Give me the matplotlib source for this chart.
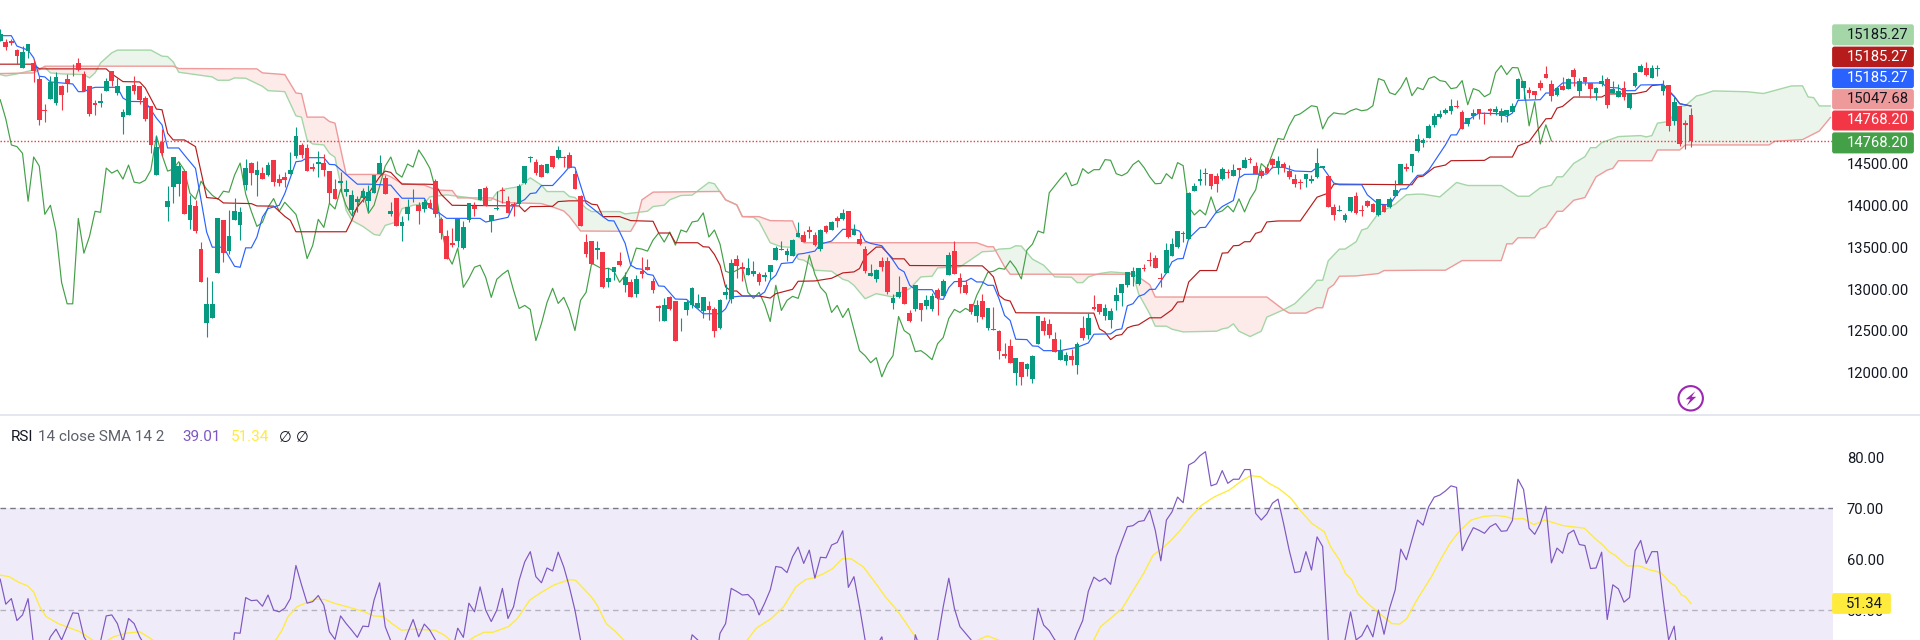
import numpy as np
import matplotlib
matplotlib.use("Agg")
import matplotlib.pyplot as plt
from matplotlib.patches import FancyBboxPatch, Circle, Polygon

plt.rcParams["font.family"] = ["Roboto", "DejaVu Sans"]

opens = [15960,15948,15956,15848,15636,15840,15704,15512,15140,15272,
15224,15420,15508,15668,15704,15572,15420,15220,15216,15360,
15608,15344,15056,15072,15440,15420,15280,15188,14360,14760,
13980,14216,14252,14408,13820,13988,13484,12596,12656,13196,
13820,13460,13820,13760,14240,14504,14360,14384,14360,14540,
14312,14336,14372,14588,14720,14684,14456,14496,14504,14408,
14192,14264,14156,13940,14044,14084,14048,14144,14372,14324,
13892,14084,13748,13892,14072,14000,13952,14024,14288,13832,
13628,13544,13568,13496,13820,13996,14060,14204,13808,13952,
14184,14048,14020,14012,14264,14564,14516,14480,14384,14588,
14564,14576,14601,14377,14113,13561,13573,13465,13441,13081,
13201,13333,13045,13081,12937,13213,13261,13093,12793,12613,
12901,12853,12581,12745,12805,12769,12733,12793,12757,12541,
12925,12877,13357,13261,13165,13177,13177,13145,13201,13345,
13469,13405,13393,13621,13645,13701,13645,13477,13753,13705,
13849,13837,13933,13645,13597,13477,13157,13117,13333,13333,
12829,12901,13021,12709,12757,12829,12793,12757,12985,12913,
13165,13453,13129,13045,12817,12673,12853,12541,12525,12505,
12229,12325,12001,12133,12049,11929,12349,12613,12589,12409,
12157,12145,12205,12097,12541,12457,12781,12817,12673,12625,
12853,12949,13045,13141,13057,13249,13349,13369,13137,13189,
13393,13501,13653,13597,14173,14293,14369,14377,14353,14317,
14401,14353,14449,14449,14553,14473,14413,14441,14557,14461,
14497,14413,14317,14281,14317,14293,14341,14449,14353,13981,
13937,13825,13933,14113,13945,14053,14017,13885,14005,13981,
14113,14257,14457,14473,14653,14749,14804,14960,15056,15104,
15128,15188,15116,14972,15068,15152,15104,15148,15116,15068,
15080,15116,15272,15404,15380,15368,15464,15572,15452,15320,
15428,15392,15620,15368,15536,15464,15344,15444,15512,15344,
15296,15404,15164,15428,15596,15644,15524,15624,15368,15440,
15008,15188,14980,15080]
highs = [16100,15980,15980,15860,15900,15920,15740,15540,15212,15540,
15592,15440,15572,15692,15752,15600,15420,15260,15340,15520,
15608,15520,15148,15420,15548,15420,15308,15188,14828,14908,
14228,14576,14520,14408,14120,14060,13556,13148,13100,13844,
13828,13940,14084,13980,14548,14520,14532,14452,14520,14540,
14372,14400,14636,14932,14740,14728,14508,14648,14608,14408,
14312,14400,14300,14180,14108,14204,14240,14360,14600,14360,
14036,14084,13876,14072,14192,14036,14080,14072,14312,13856,
13700,13724,13832,13808,14032,14044,14200,14228,13880,14168,
14216,14108,14040,14252,14468,14588,14548,14492,14492,14588,
14708,14588,14640,14425,14125,13657,13573,13573,13441,13249,
13261,13441,13201,13117,13165,13381,13357,13129,12805,12889,
12913,12853,12649,12865,13021,12937,12901,12853,12781,12877,
13057,13357,13405,13321,13369,13333,13201,13201,13285,13513,
13573,13489,13597,13801,13693,13753,13681,13717,13765,13813,
13873,13957,13933,13777,13669,13513,13297,13237,13381,13381,
12937,13153,13021,12745,13045,12829,12925,12949,13009,13117,
13441,13573,13189,13105,12817,12865,12937,12769,12781,12517,
12361,12409,12181,12133,12121,12217,12673,12661,12637,12493,
12409,12253,12289,12373,12673,12709,12925,12817,12817,12769,
13021,13057,13201,13261,13249,13305,13441,13405,13189,13549,
13609,13693,13693,14161,14269,14437,14449,14377,14389,14461,
14437,14497,14449,14581,14581,14521,14437,14497,14569,14593,
14521,14485,14377,14317,14377,14365,14689,14473,14365,14017,
14005,13909,14101,14161,14005,14065,14029,14077,14017,14101,
14305,14497,14509,14617,14845,14805,14972,15104,15140,15164,
15272,15260,15140,15044,15152,15152,15116,15164,15188,15164,
15140,15224,15524,15488,15416,15368,15500,15668,15500,15416,
15536,15524,15644,15524,15536,15464,15416,15560,15536,15488,
15452,15488,15332,15596,15692,15716,15680,15680,15500,15440,
15296,15188,15020,15164]
lows = [15960,15852,15912,15688,15636,15752,15468,14960,14988,15272,
15200,15132,15348,15548,15600,15360,15068,15080,15168,15360,
15420,15320,14852,15072,15332,15212,15000,14628,14360,14588,
13812,14028,14108,13892,13712,13668,13080,12428,12656,13196,
13320,13420,13820,13580,14180,14240,14108,14312,14352,14228,
14228,14220,14372,14560,14560,14408,14408,14340,14348,14028,
14072,14168,14108,13876,13920,14036,13928,14144,14372,14132,
13868,13748,13568,13820,14036,13772,13916,13964,13856,13592,
13364,13508,13508,13476,13796,13868,14060,13996,13676,13940,
14028,13904,13868,13988,14252,14516,14360,14336,14384,14444,
14552,14456,14441,14197,13753,13381,13297,13357,13009,13025,
13105,13273,12961,12901,12901,13129,13225,12949,12613,12613,
12745,12385,12505,12685,12769,12769,12649,12625,12433,12529,
12877,12829,13129,13093,13165,13153,13045,13093,13117,13345,
13465,13333,13393,13621,13561,13609,13513,13453,13669,13705,
13741,13825,13609,13645,13525,13189,13157,13081,13213,12937,
12757,12889,12817,12601,12733,12613,12757,12733,12685,12913,
13165,13177,12949,12937,12697,12601,12637,12517,12517,12169,
12181,12121,11857,11857,11965,11881,12349,12457,12421,12253,
12157,12097,12097,11989,12397,12409,12745,12697,12625,12541,
12745,12793,13021,13033,13045,13213,13273,13249,13021,13189,
13393,13489,13561,13597,14173,14245,14245,14197,14161,14305,
14329,14353,14341,14449,14509,14377,14329,14389,14449,14377,
14401,14317,14221,14197,14221,14269,14329,14449,13981,13825,
13933,13801,13921,13897,13873,13981,13921,13873,13921,13969,
14113,14257,14413,14401,14641,14701,14804,14936,15044,15092,
15092,15164,14912,14948,15032,15032,14972,15080,15080,14996,
14996,15116,15272,15272,15284,15272,15380,15524,15248,15308,
15380,15392,15428,15308,15440,15284,15260,15428,15164,15344,
15296,15260,15152,15416,15596,15548,15524,15548,15320,14888,
14960,14708,14672,14696]
closes = [16040,15888,15936,15780,15828,15920,15600,15012,15120,15468,
15536,15320,15460,15660,15612,15368,15092,15200,15248,15488,
15488,15428,15116,15420,15368,15260,15032,14720,14700,14620,
14048,14576,14468,13892,14000,13692,13080,12824,12824,13844,
13428,13628,13928,13916,14444,14384,14420,14312,14480,14276,
14264,14300,14420,14828,14600,14408,14432,14520,14420,14144,
14072,14288,14192,14120,14072,14168,14156,14360,14504,14132,
13928,13748,13796,13976,14080,13928,14036,13964,13892,13664,
13364,13520,13832,13736,14024,13956,14192,13996,13880,13972,
14172,13904,14000,14228,14468,14576,14384,14336,14492,14456,
14660,14560,14441,14197,13753,13417,13297,13489,13021,13129,
13261,13285,13141,12901,13117,13177,13225,12985,12769,12805,
12757,12385,12589,12841,13009,12829,12901,12745,12505,12865,
12961,13309,13273,13237,13249,13213,13081,13165,13285,13489,
13477,13453,13585,13669,13561,13681,13525,13705,13681,13801,
13813,13909,13621,13705,13537,13213,13189,13225,13261,12961,
12889,12961,12817,12613,13045,12745,12865,12913,12889,13093,
13405,13177,13021,12949,12721,12805,12661,12769,12517,12265,
12205,12121,12181,11953,12109,12205,12673,12505,12457,12253,
12265,12217,12157,12349,12421,12649,12757,12721,12769,12733,
12925,13057,13201,13213,13249,13237,13337,13249,13121,13465,
13537,13693,13669,14149,14233,14317,14389,14233,14257,14437,
14381,14425,14425,14545,14537,14377,14353,14389,14485,14533,
14449,14341,14257,14261,14377,14317,14509,14473,13981,13885,
13945,13885,14101,13909,13933,13993,13921,14077,13921,14077,
14185,14497,14437,14617,14797,14785,14948,15068,15092,15140,
15188,15176,14912,15044,15104,15092,15088,15128,15152,15128,
15140,15188,15512,15488,15344,15320,15404,15524,15308,15404,
15380,15512,15536,15488,15476,15392,15404,15488,15200,15392,
15368,15296,15332,15584,15668,15560,15644,15640,15440,14948,
15236,14732,14960,14768]
chikou = closes[25:]

tenkan_i = [0,2,3,5,6,7,8,9,13,14,15,16,17,21,22,23,26,27,28,29,30,32,33,35,36,37,38,40,42,43,44,45,46,47,48,50,51,53,54,55,58,59,60,62,64,66,70,71,72,76,77,78,80,86,87,91,92,94,95,96,97,99,101,102,103,105,108,109,110,111,112,113,114,115,116,117,118,119,121,123,126,129,130,131,133,136,137,138,139,140,142,143,144,146,147,149,151,153,154,155,156,158,160,161,162,163,164,167,168,169,170,171,173,174,175,176,177,178,179,180,181,182,184,185,186,187,190,193,195,196,199,200,201,202,203,204,205,206,207,209,210,211,212,213,215,216,218,219,221,222,223,227,228,230,232,235,236,237,239,240,244,245,247,249,250,251,252,254,255,256,259,260,261,262,264,265,269,270,271,272,276,277,278,280,287,288,290,291,293,294,298,299,300,301,303]
tenkan = [16024,16024,15900,15852,15760,15540,15532,15472,15448,15356,15356,15388,15408,15408,15280,15240,15236,15140,15040,14960,14684,14684,14600,14440,14060,13680,13500,13500,13272,13260,13492,13492,13620,13860,13960,14000,14140,14520,14528,14568,14568,14488,14484,14368,14252,14252,14240,14160,14084,14084,13968,13940,13844,13844,13800,13856,14000,14068,14140,14148,14236,14236,14380,14460,14453,14025,13865,13817,13813,13685,13545,13285,13245,13237,13177,13165,13037,13033,12881,12877,12705,12705,12765,12905,12917,12917,12965,13105,13165,13305,13317,13417,13425,13453,13537,13573,13713,13713,13693,13573,13545,13517,13345,13245,13205,13045,12993,12993,12885,12877,13017,13089,13093,13129,13085,13085,13045,13045,12885,12685,12625,12401,12397,12321,12317,12265,12265,12305,12357,12461,12465,12513,12525,12801,12825,12913,12937,12997,12997,13193,13325,13361,13365,13605,13733,13737,13925,13985,14057,14325,14369,14373,14453,14453,14409,14401,14453,14453,14265,14245,14245,14125,14013,14005,14105,14193,14197,14357,14360,14420,14720,14840,14840,14960,15060,15100,15092,15060,15100,15252,15260,15340,15340,15460,15460,15408,15400,15368,15368,15436,15440,15360,15300,15212,15185]

kijun_i = [0,6,7,19,20,22,25,26,28,29,30,31,33,35,37,39,40,45,46,49,51,52,53,62,63,64,65,66,68,69,70,72,76,78,79,81,87,93,94,95,99,100,102,105,106,107,108,111,113,117,118,120,121,125,126,127,128,129,130,131,132,133,136,138,139,142,143,146,149,151,153,154,155,157,158,160,162,163,176,177,178,179,180,181,182,196,197,198,199,200,201,202,203,204,206,208,210,211,212,213,215,218,219,220,221,222,223,224,225,226,227,229,233,236,238,239,253,254,255,257,259,260,266,267,271,272,274,276,277,278,279,280,282,287,288,293,295,296,298,300,301,303]
kijun = [15684,15684,15628,15628,15568,15476,15472,15400,15148,15140,14860,14780,14780,14700,14092,14080,14028,14020,13992,13990,13868,13820,13684,13684,13820,13980,14060,14140,14340,14408,14392,14252,14252,14248,14132,14000,13996,13992,13924,13984,13988,14044,14053,14053,14013,14005,13865,13865,13817,13809,13669,13669,13553,13553,13505,13501,13413,13285,13025,12977,12977,12917,12917,12893,12945,12997,13093,13097,13129,13193,13205,13245,13385,13501,13501,13361,13361,13281,13277,13217,13145,12925,12873,12857,12717,12713,12525,12485,12397,12445,12457,12537,12561,12573,12657,12657,12753,12845,12849,13085,13221,13221,13429,13433,13517,13521,13565,13565,13665,13685,13801,13813,13813,14097,14145,14253,14245,14337,14348,14452,14480,14532,14536,14576,14576,14708,14760,14940,15032,15036,15160,15180,15292,15292,15328,15332,15360,15428,15444,15300,15212,15185]

span_a_i = [0,1,3,8,9,11,15,16,17,18,20,21,27,29,30,31,32,35,38,39,41,42,44,47,48,51,53,54,55,56,58,59,60,62,63,65,67,68,69,71,72,74,76,77,80,84,86,88,89,90,92,93,95,97,98,101,102,103,105,106,111,112,116,117,119,120,122,124,127,128,130,132,133,135,136,138,140,142,143,144,145,146,149,151,152,153,155,157,160,161,163,165,167,168,172,174,176,178,179,181,182,183,185,187,189,192,193,194,195,197,199,203,204,206,207,209,210,212,218,219,220,221,222,224,226,227,230,232,235,236,237,238,240,241,243,244,245,247,249,250,252,254,255,258,261,263,269,272,274,276,278,279,280,282,284,285,286,287,290,294,295,296,297,299,301,302,304,305,307,313,316,321,323,324,325,326,328]
span_a = [15560,15544,15568,15648,15580,15568,15560,15520,15580,15700,15820,15852,15852,15780,15775,15712,15588,15560,15532,15492,15492,15520,15516,15420,15368,15356,15068,15052,14780,14732,14720,14620,14572,13940,13820,13748,13652,13640,13760,13800,13960,14000,14020,14100,14124,14092,14060,14060,14152,14188,14212,14220,14328,14240,14164,14164,14105,14093,13965,13925,13925,13897,13929,13985,14001,14065,14117,14121,14273,14257,14065,14005,13865,13857,13805,13553,13505,13497,13357,13345,13305,13225,13213,13117,13097,13045,12885,12945,12905,12945,13005,13145,13153,13253,13265,13353,13445,13453,13477,13485,13517,13513,13357,13285,13145,13141,13077,13077,13145,13185,13205,13185,12945,12705,12557,12557,12521,12489,12497,12525,12537,12585,12497,12433,12497,12665,12753,12825,13025,13105,13105,13337,13477,13477,13565,13705,13725,13905,13977,14013,14125,14133,14132,14100,14272,14236,14236,14108,14108,14208,14240,14340,14340,14500,14580,14688,14688,14748,14820,14832,14816,14832,14980,15000,15180,15188,15305,15320,15365,15355,15334,15424,15426,15293,15285,15186,15185]

span_b_i = [0,6,8,31,32,46,47,51,53,54,55,58,59,60,62,69,70,72,76,78,79,81,82,88,90,93,97,99,101,102,104,113,114,115,117,129,130,132,133,136,138,142,143,144,153,175,177,178,180,181,203,204,206,207,227,230,231,234,236,237,238,239,240,243,247,248,255,259,262,269,270,271,272,275,276,277,279,280,282,284,286,288,289,290,296,297,301,302,317,318,323,326,328]
span_b = [15572,15580,15660,15660,15632,15628,15580,15560,15340,15332,15052,15052,15000,14980,14368,14368,14340,14260,14240,14188,14180,14176,14088,14088,14032,14028,14020,13980,13932,13868,13693,13689,13805,14065,14157,14165,14065,14005,13865,13865,13817,13813,13645,13553,13553,13553,13505,13505,13265,13177,13177,13145,13053,12905,12905,12753,12713,12713,12777,12777,13005,13053,13153,13157,13185,13221,13225,13225,13340,13340,13540,13540,13612,13612,13712,13740,13928,13928,14060,14092,14340,14420,14440,14532,14532,14660,14660,14720,14720,14764,14784,14886,15047.68]

rsi = [56.1,51.2,52.3,48.0,49.1,52.3,43,42,42,44.8,46.3,44.2,46.8,49.5,49.4,44.8,43,43,44,48.9,49.1,47.4,43.8,48.4,47.4,44.8,43,42,38,37,32,35,35,31,33,30,27,24,25,35,32,36,
45.6,45.5,52.5,51.9,52.0,50.8,53.0,50.05,49.7,50.4,52.3,58.8,55.0,51.4,51.7,52.9,51.0,45.8,44.3,48.9,47.4,46.1,44.7,46.9,46.8,52.0,55.4,46.8,44.0,41,42.5,45.5,48.2,44.8,47.3,46.1,44.2,42,41,42,46.5,44.7,51.4,49.7,54.6,50.05,47.8,50.05,54.3,48.4,50.7,55.9,59.5,61.5,56.6,55.4,58.3,57.7,61.4,58.5,54.6,50.05,44.2,
38,36,37,32,33,35,37,35,33,36,37,38,35,34,35,36,30,34,40,45.2,44.2,43,41,38,45.5,47.4,54.3,53.7,53.0,53.1,52.0,49.1,51.4,54.0,58.6,58.4,57.4,60.5,62.4,59.2,61.8,56.3,60.4,60.3,62.8,63.3,65.6,54.5,56.6,50.7,44.2,42,43,44.8,38,37,39,37,35,45.2,42,43,43.5,44.2,50.7,56.3,50.4,46.8,45.5,44.2,42,43,41,41,38,38,36,40,37,39,43,50.4,47.1,46.0,44.2,43.5,43,42.5,45.5,48.0,53.7,56.5,55.7,56.3,55.1,60.5,63.5,66.4,66.6,67.4,67.6,69.7,65.7,59.7,67.7,69.3,72.2,71.1,78.5,79.1,80.3,81.1,74.4,74.8,77.4,74.9,75.7,75.7,77.6,77.6,69.0,67.7,68.9,71.0,71.8,67.0,61.8,57.4,57.6,61.5,57.9,64.4,62.5,
44.2,40,41,44.2,49.7,44.2,45.0,47.1,44.8,50.05,45.3,50.4,54.0,62.0,59.9,63.8,67.7,66.7,70.3,72.2,72.6,73.4,74.4,74.1,61.7,64.1,66.2,65.7,65.1,66.4,67.0,65.5,65.6,67.6,75.7,73.7,66.1,64.9,67.0,70.4,59.3,62.2,61.2,65.0,65.7,62.9,62.7,58.2,58.3,61.4,48.2,55.0,54.2,51.6,52.5,61.7,63.7,59.2,61.5,61.5,52.3,44.2,46.9,37,44,39.01]
rsi_i = list(range(len(rsi)))

rsi_ma_i = [0,1.6,3.3,4.9,6,7.1,8.2,10.4,14.3,16.5,18.1,20.3,22.5,25,26.9,28.7,33,38,44,49.4,50.5,51.6,53.2,54.9,56.5,58.2,59.8,62.5,65.3,66.9,68.6,70.2,71.9,74.1,77.9,79.5,80.6,82.8,85,86.7,88.3,91.1,92.7,94.9,97.1,99.3,102,103.1,105.9,107,108.6,110.3,111.7,116.3,130.6,133.9,135.5,138.2,140.4,142.6,144.3,145.9,147.6,149.2,150.9,152.5,154.7,156.9,158.6,160.7,162.4,164,165.1,170,175.3,176.9,178.6,180.8,188.5,195.6,197.2,199.4,201.1,202.7,204.9,206.6,208.2,209.9,211.5,213.1,215.3,217.5,220.3,222.5,224.1,225.8,227.4,229.1,231.3,232.9,235.1,237.3,238.4,240,241.1,242.2,243.3,245,247.2,249.4,250.8,252.1,253.7,256.5,258.1,259.8,261.4,263.6,265.8,268,269.7,271.3,272.9,274.9,276.8,280.1,283.9,286.1,287.2,288.3,289.4,291.6,293.8,295.4,297.6,299.3,300.2,301.3,302,303]
rsi_ma = [56.9,56.6,55.5,54.8,53.6,50.7,48.8,47.4,45.8,44.2,43.4,44.8,45.5,45.8,44.5,43.2,40,36,39,44.2,46.1,48.8,50.7,51.5,52.2,52.1,51.4,50.6,49.7,48.9,48.8,47.4,46.1,46.3,46.1,45.2,44.2,43.2,44.8,45.7,45.7,46.8,48.4,52,53.6,55,56,55.9,52.7,51,47.4,45.8,44.2,42.2,42.2,44.2,46.5,48.4,50.7,54.6,56,56.4,57.2,58.2,60.1,60.1,58.5,55.3,52.7,50.05,47.4,44.8,43.5,42,44.2,45,44.3,43.4,42.5,43.4,46.8,48.8,50.4,53.3,57.2,60.8,62.1,63.8,65.7,68,70.6,72.2,73.6,75.4,76.4,76.2,74.9,73.9,72,69.7,67.0,65.4,62.5,59.9,57.2,56,53.3,51.4,49.4,47.4,47.3,48.4,51.7,56.6,59.9,63.1,65.4,67.7,68.4,68.6,68.4,67.9,68.0,66.8,67.7,66.6,66.1,63.8,62.8,61.5,60.8,58.7,58.7,58.0,57.4,55.4,54.8,53,52.7,51.34]

price_ticks = [12000,12500,13000,13500,14000,14500]
rsi_ticks = [50,60,70,80]
last_labels = ["15185.27","15185.27","15185.27","15047.68","14768.20","14768.20"]
rsi_legend = "14 close SMA 14 2"

GREEN, RED = "#089981", "#F23645"
W, H = 1920, 640
PANE_R = 1833
SEP = 415
AXFS = 10.6
fig = plt.figure(figsize=(W/100, H/100), dpi=100, facecolor="white")
ax = fig.add_axes([0, (H-SEP)/H, PANE_R/W, SEP/H])
ar = fig.add_axes([0, 0, PANE_R/W, (H-SEP-1)/H])
xlim = (-0.036, 328.46)

# cloud
grid = np.arange(0, 328.01, 0.1)
ga = np.interp(grid, span_a_i, span_a)
gb = np.interp(grid, span_b_i, span_b)
ax.fill_between(grid, ga, gb, where=ga >= gb, color="#43A047", alpha=0.10, lw=0, interpolate=True, zorder=1)
ax.fill_between(grid, ga, gb, where=ga < gb, color="#F44336", alpha=0.10, lw=0, interpolate=True, zorder=1)
ax.plot(span_a_i, span_a, color="#A5D6A7", lw=1.0, zorder=2)
ax.plot(span_b_i, span_b, color="#EF9A9A", lw=1.0, zorder=2)
ax.plot(range(len(chikou)), chikou, color="#43A047", lw=0.85, zorder=3)
ax.plot(kijun_i, kijun, color="#B71C1C", lw=0.85, zorder=3)
ax.plot(tenkan_i, tenkan, color="#2962FF", lw=0.85, zorder=3)

# candles
idx = np.arange(len(opens))
o, h, l, c = map(np.array, (opens, highs, lows, closes))
cols = [GREEN if cc >= oo else RED for oo, cc in zip(o, c)]
ax.vlines(idx, l, h, colors=cols, lw=0.8, zorder=5)
ax.bar(idx, np.abs(c-o), bottom=np.minimum(o, c), width=0.84, color=cols, lw=0, zorder=6)
ax.axhline(closes[-1], color=RED, lw=1.0, ls=(0, (1, 1.45)), zorder=4)

ax.set_xlim(*xlim)
ax.set_ylim(11497, 16450)
ax.yaxis.tick_right()
ax.set_yticks(price_ticks)
ax.set_yticklabels([f"{t:.2f}" for t in price_ticks])
ax.tick_params(axis="y", length=0, pad=10, labelsize=AXFS, labelcolor="#131722")
ax.set_xticks([])
for s in ax.spines.values():
    s.set_visible(False)

# RSI
ar.axhspan(30, 70, color="#7E57C2", alpha=0.115, lw=0, zorder=1)
ar.axhline(70, color="#787B86", lw=1, ls=(0, (4, 3)), zorder=2)
ar.axhline(50, color="#787B86", lw=1, ls=(0, (4, 3)), alpha=0.5, zorder=2)
ar.plot(rsi_ma_i, rsi_ma, color="#FFEB3B", lw=0.95, zorder=3)
ar.plot(rsi_i, rsi, color="#7E57C2", lw=0.85, zorder=4)
ar.set_xlim(*xlim)
ar.set_ylim(44.18, 88.1)
ar.yaxis.tick_right()
ar.set_yticks(rsi_ticks)
ar.set_yticklabels([f"{t:.2f}" for t in rsi_ticks])
ar.tick_params(axis="y", length=0, pad=10, labelsize=AXFS, labelcolor="#131722")
ar.set_xticks([])
for s in ar.spines.values():
    s.set_visible(False)

# pixel overlay for price labels, separator, icon and legend
ov = fig.add_axes([0, 0, 1, 1], zorder=10)
ov.set_xlim(0, W)
ov.set_ylim(H, 0)
ov.axis("off")
ov.patch.set_alpha(0)
ov.plot([0, W], [SEP, SEP], color="#E0E3EB", lw=1.2, solid_capstyle="butt")

boxes = [(24.2, 45.5, "#A5D6A7", "#131722"), (46.5, 67.3, "#B71C1C", "white"), (68.4, 88.2, "#2962FF", "white"),
         (89.0, 109.4, "#EF9A9A", "#131722"), (110.4, 130.6, "#F23645", "white"), (132.3, 153.5, "#43A047", "white")]
for (y0, y1, fc, tc), lab in zip(boxes, last_labels):
    ov.add_patch(FancyBboxPatch((1833, y0+1), 80, y1-y0-2, boxstyle="round,pad=0,rounding_size=1.5",
                                fc=fc, ec=fc, lw=1.3))
    ov.text(1847, (y0+y1)/2, lab, color=tc, fontsize=AXFS, va="center", ha="left")
ov.add_patch(FancyBboxPatch((1833, 594), 57, 19, boxstyle="round,pad=0,rounding_size=1.5", fc="#FFEB3B", ec="#FFEB3B", lw=1.3))
ov.text(1846, 603.5, f"{rsi_ma[-1]:.2f}", color="#131722", fontsize=AXFS, va="center", ha="left")
ov.text(1847, -4.2, "16500.00", color="#131722", fontsize=AXFS, va="center", ha="left", clip_on=False)

# purple bolt badge
bx, by = 1690.7, 398.3
ov.add_patch(Circle((bx, by), 12.2, fc="white", ec="#9C27B0", lw=1.5))
ov.add_patch(Polygon([(bx+4.5, by-7), (bx-5, by+1), (bx-0.5, by+1), (bx-4, by+7.5), (bx+5.5, by-1.5), (bx+1, by-1.5)],
                     closed=True, fc="#9C27B0", ec="none"))

LGFS = 11
ov.text(11, 437, "RSI", color="#131722", fontsize=LGFS, va="center")
ov.text(38, 437, rsi_legend, color="#5D606B", fontsize=LGFS, va="center")
ov.text(182.5, 437, f"{rsi[-1]:.2f}", color="#7E57C2", fontsize=LGFS, va="center")
ov.text(231, 437, f"{rsi_ma[-1]:.2f}", color="#FFEB3B", fontsize=LGFS, va="center")
ov.text(279, 437, "\u2205", family="DejaVu Sans", color="#131722", fontsize=10.5, va="center")
ov.text(296, 437, "\u2205", family="DejaVu Sans", color="#131722", fontsize=10.5, va="center")

fig.savefig("out.png", dpi=100, facecolor="white")
